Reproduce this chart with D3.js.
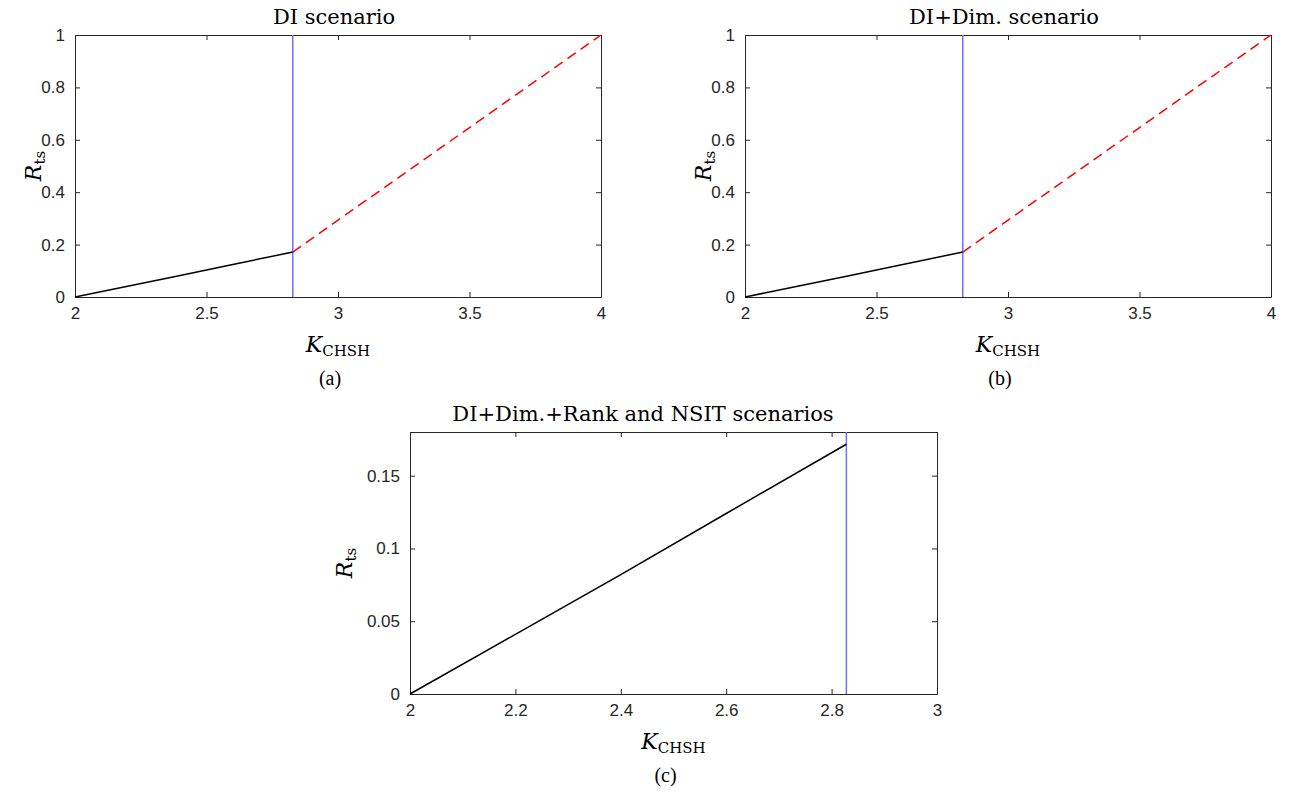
<!DOCTYPE html>
<html>
<head>
<meta charset="utf-8">
<script src="https://cdn.jsdelivr.net/npm/d3@7"></script>
<style>
  body { margin: 0; background: #fff; }
  .serif { font-family: "DejaVu Serif", "Liberation Serif", serif; }
  .cap { font-family: "Liberation Serif", "Times New Roman", serif; }
</style>
</head>
<body>
<svg width="1293" height="794"></svg>
<script>
// data
var kSecant = [2, 2.2, 2.4, 2.6, 2.828];          // K_CHSH, below Tsirelson bound
var rSecant = [0, 0.041, 0.082, 0.124, 0.1716];    // R_ts
var kNoSig = [2.828, 4];                           // dashed red part (a),(b)
var rNoSig = [0.1716, 1];
var tsirelson = 2.828;                             // blue vertical line
var ticksXab = [2, 2.5, 3, 3.5, 4];
var ticksYab = [0, 0.2, 0.4, 0.6, 0.8, 1];
var ticksXc = [2, 2.2, 2.4, 2.6, 2.8, 3];
var ticksYc = [0, 0.05, 0.1, 0.15];

var svg = d3.select("svg");

var panels = [
  { left: 75, right: 601, top: 35, bottom: 297, xd: [2, 4], yd: [0, 1], xt: ticksXab, yt: ticksYab,
    title: "DI scenario", cap: "(a)", red: true, titleX: 334, ylOff: 34 },
  { left: 745, right: 1271, top: 35, bottom: 297, xd: [2, 4], yd: [0, 1], xt: ticksXab, yt: ticksYab,
    title: "DI+Dim. scenario", cap: "(b)", red: true, titleX: 1004, ylOff: 34 },
  { left: 410, right: 937, top: 432, bottom: 694, xd: [2, 3], yd: [0, 0.18], xt: ticksXc, yt: ticksYc,
    title: "DI+Dim.+Rank and NSIT scenarios", cap: "(c)", red: false, titleX: 643, ylOff: 58 }
];

panels.forEach(function(p) {
  var x = d3.scaleLinear().domain(p.xd).range([p.left, p.right]);
  var y = d3.scaleLinear().domain(p.yd).range([p.bottom, p.top]);
  var g = svg.append("g");
  var fmt = function(d) { return String(+d.toFixed(3)); };

  // box axes with inward ticks
  var axes = [
    [d3.axisBottom(x).tickValues(p.xt).tickFormat(fmt), p.bottom, 0, 10],
    [d3.axisTop(x).tickValues(p.xt).tickFormat(""), p.top, 0, 0],
    [d3.axisLeft(y).tickValues(p.yt).tickFormat(fmt), 0, p.left, 10],
    [d3.axisRight(y).tickValues(p.yt).tickFormat(""), 0, p.right, 0]
  ];
  axes.forEach(function(a) {
    var ax = g.append("g").attr("transform", "translate(" + a[2] + "," + a[1] + ")")
      .call(a[0].tickSizeInner(-5).tickSizeOuter(0).tickPadding(a[3]));
    ax.attr("font-family", "'Liberation Sans', Arial, sans-serif").attr("font-size", 17);
    ax.select(".domain").attr("stroke", "#262626").attr("stroke-width", 1);
    ax.selectAll(".tick line").attr("stroke", "#262626");
    ax.selectAll(".tick text").attr("fill", "#262626");
  });

  // curves
  var line = d3.line().x(function(d) { return x(d[0]); }).y(function(d) { return y(d[1]); });
  g.append("line").attr("x1", x(tsirelson)).attr("x2", x(tsirelson))
    .attr("y1", y(p.yd[0])).attr("y2", y(p.yd[1]))
    .attr("stroke", "#6f6fff").attr("stroke-width", 1.5);
  g.append("path").datum(d3.zip(kSecant, rSecant)).attr("d", line)
    .attr("fill", "none").attr("stroke", "#000").attr("stroke-width", 1.5);
  if (p.red) {
    g.append("path").datum(d3.zip(kNoSig, rNoSig)).attr("d", line)
      .attr("fill", "none").attr("stroke", "#ff0000").attr("stroke-width", 1.5)
      .attr("stroke-dasharray", "10,6");
  }

  // texts
  var cx = (p.left + p.right) / 2, cy = (p.top + p.bottom) / 2;
  g.append("text").attr("class", "serif").attr("x", p.titleX).attr("y", p.top - 11)
    .attr("text-anchor", "middle").attr("font-size", 21).text(p.title);
  var xl = g.append("text").attr("class", "serif").attr("x", cx).attr("y", p.bottom + 55)
    .attr("text-anchor", "middle").attr("font-size", 22);
  xl.append("tspan").attr("font-style", "italic").text("K");
  xl.append("tspan").attr("font-size", 15).attr("dy", 4).text("CHSH");
  var yl = g.append("text").attr("class", "serif")
    .attr("transform", "translate(" + (p.left - p.ylOff) + "," + cy + ") rotate(-90)")
    .attr("text-anchor", "middle").attr("font-size", 22);
  yl.append("tspan").attr("font-style", "italic").text("R");
  yl.append("tspan").attr("font-size", 15).attr("dy", 4).text("ts");
  g.append("text").attr("class", "cap").attr("x", cx - 8).attr("y", p.bottom + 88)
    .attr("text-anchor", "middle").attr("font-size", 20).text(p.cap);
});
</script>
</body>
</html>
